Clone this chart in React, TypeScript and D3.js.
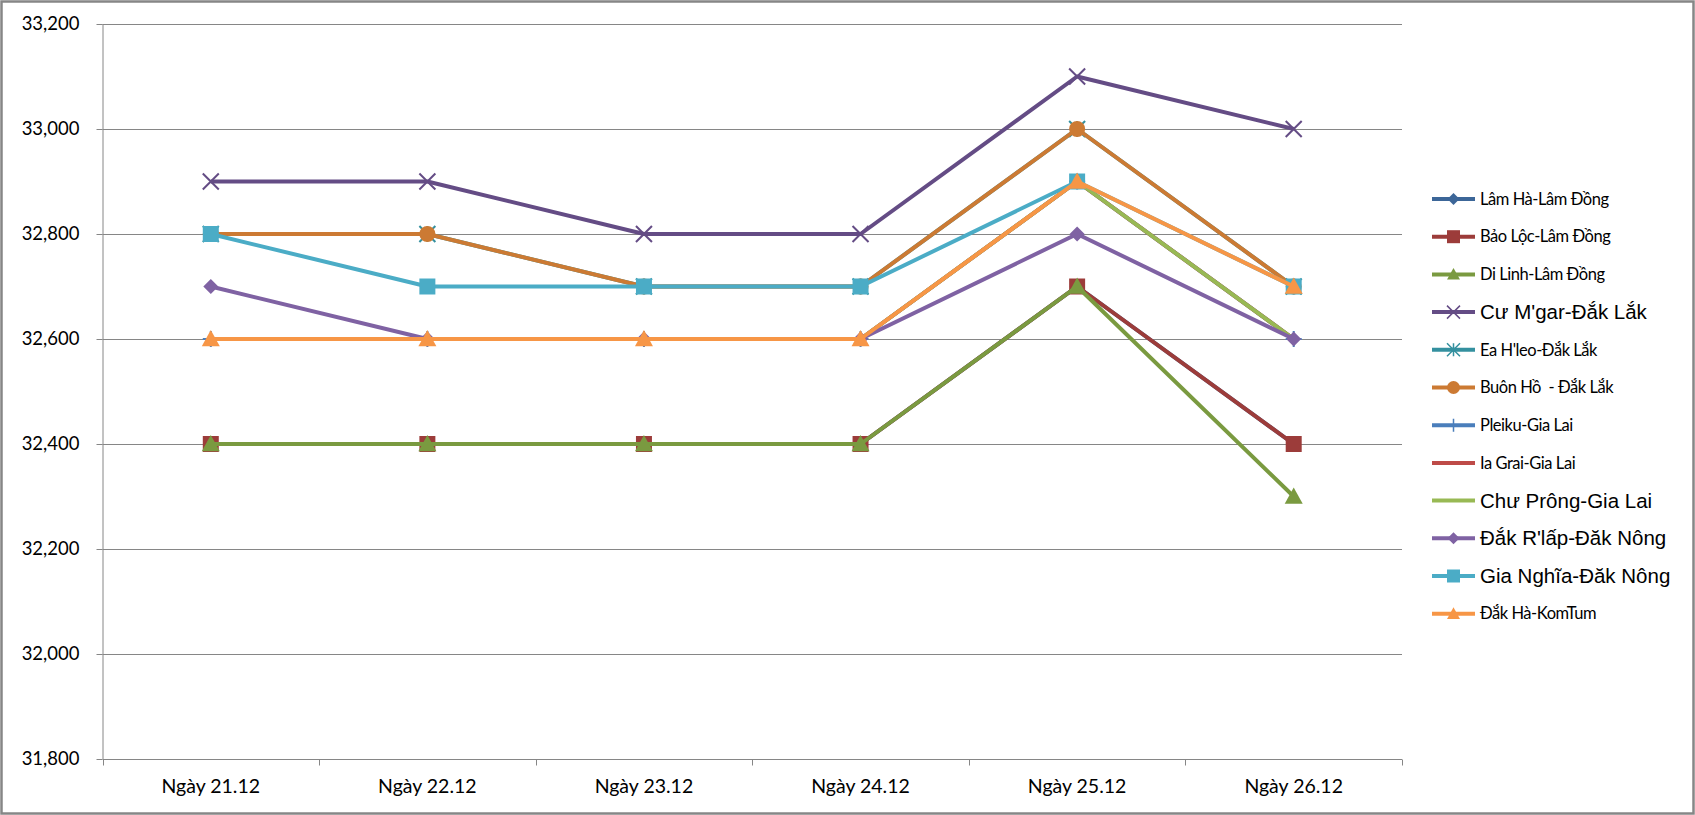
import * as d3 from "d3";
import { useEffect, useRef } from "react";

const categories = ["Ngày 21.12", "Ngày 22.12", "Ngày 23.12", "Ngày 24.12", "Ngày 25.12", "Ngày 26.12"];
const seriesNames = [
  "Lâm Hà-Lâm Đồng",
  "Bảo Lộc-Lâm Đồng",
  "Di Linh-Lâm Đồng",
  "Cư M'gar-Đắk Lắk",
  "Ea H'leo-Đắk Lắk",
  "Buôn Hồ  - Đắk Lắk",
  "Pleiku-Gia Lai",
  "Ia Grai-Gia Lai",
  "Chư Prông-Gia Lai",
  "Đắk R'lấp-Đăk Nông",
  "Gia Nghĩa-Đăk Nông",
  "Đắk Hà-KomTum",
];
const lamHa = [32400, 32400, 32400, 32400, 32700, 32400];
const baoLoc = [32400, 32400, 32400, 32400, 32700, 32400];
const diLinh = [32400, 32400, 32400, 32400, 32700, 32300];
const cuMgar = [32900, 32900, 32800, 32800, 33100, 33000];
const eaHleo = [32800, 32800, 32700, 32700, 33000, 32700];
const buonHo = [32800, 32800, 32700, 32700, 33000, 32700];
const pleiku = [32600, 32600, 32600, 32600, 32900, 32600];
const iaGrai = [32600, 32600, 32600, 32600, 32900, 32600];
const chuProng = [32600, 32600, 32600, 32600, 32900, 32600];
const dakRlap = [32700, 32600, 32600, 32600, 32800, 32600];
const giaNghia = [32800, 32700, 32700, 32700, 32900, 32700];
const dakHa = [32600, 32600, 32600, 32600, 32900, 32700];
const yTicks = [31800, 32000, 32200, 32400, 32600, 32800, 33000, 33200];

const seriesValues = [lamHa, baoLoc, diLinh, cuMgar, eaHleo, buonHo, pleiku, iaGrai, chuProng, dakRlap, giaNghia, dakHa];
const colors = ["#3C6698", "#9C3C3A", "#7A9A40", "#644C85", "#34909F", "#CC7A33", "#4A7EBB", "#BE4B48", "#98B954", "#7F62A3", "#4BACC6", "#F79646"];
const markers = ["diamond", "square", "triangle", "x", "star", "circle", "plus", "none", "none", "diamond", "square", "triangle"];
// some legend entries were typed in a different font in the original
const arialEntries = [3, 8, 9, 10];

// marker path centred on 0,0
const markerPath = (type, s) => {
  const h = s / 2;
  switch (type) {
    case "diamond":
      return `M0,${-h}L${h},0L0,${h}L${-h},0Z`;
    case "square":
      return `M${-h},${-h}H${h}V${h}H${-h}Z`;
    case "triangle":
      return `M0,${-h}L${h},${h * 0.8}L${-h},${h * 0.8}Z`;
    case "circle":
      return d3.symbol(d3.symbolCircle, Math.PI * h * h)();
    case "x":
      return `M${-h},${-h}L${h},${h}M${-h},${h}L${h},${-h}`;
    case "star":
      return `M${-h},${-h}L${h},${h}M${-h},${h}L${h},${-h}M0,${-h}V${h}`;
    case "plus":
      return `M0,${-h}V${h}M${-h},0H${h}`;
    default:
      return null;
  }
};
const isStroked = (type) => type === "x" || type === "star" || type === "plus";

const App = () => {
  const svgRef = useRef();

  const renderSVG = () => {
    const dims = {
      width: 1695,
      height: 815,
      plot: { left: 102.5, right: 1402, top: 24, bottom: 759 },
      legend: { x1: 1432, x2: 1475, textX: 1480, y0: 199, step: 37.7 },
    };

    document.body.style.margin = "0";

    const x = d3.scaleBand().domain(categories).range([dims.plot.left, dims.plot.right]);
    const y = d3.scaleLinear().domain([31800, 33200]).range([dims.plot.bottom, dims.plot.top]);

    svgRef.current.innerHTML = "";
    const svg = d3
      .select(svgRef.current)
      .attr("width", dims.width)
      .attr("height", dims.height)
      .attr("viewBox", [0, 0, dims.width, dims.height])
      .style("display", "block")
      .style("background", "#fff");

    // outer chart border
    svg
      .append("rect")
      .attr("x", 1.5)
      .attr("y", 1.5)
      .attr("width", dims.width - 3)
      .attr("height", dims.height - 3)
      .attr("fill", "#fff")
      .attr("stroke", "#868686")
      .attr("stroke-width", 2.5);

    // gridlines
    svg
      .append("g")
      .selectAll("line")
      .data(yTicks.slice(1))
      .join("line")
      .attr("x1", dims.plot.left)
      .attr("x2", dims.plot.right)
      .attr("y1", (d) => Math.round(y(d)) + 0.5)
      .attr("y2", (d) => Math.round(y(d)) + 0.5)
      .attr("stroke", "#868686")
      .attr("stroke-width", 1);

    // Y axis
    svg
      .append("g")
      .attr("transform", `translate(${dims.plot.left},0)`)
      .call(d3.axisLeft(y).tickValues(yTicks).tickSize(6).tickPadding(17).tickFormat(d3.format(",")))
      .call((g) => {
        g.select("path.domain").attr("stroke", "#868686").attr("d", `M0.5,${dims.plot.top}V${dims.plot.bottom}`);
        g.selectAll(".tick line").attr("stroke", "#868686");
        g.selectAll(".tick text")
          .attr("font-size", 18.5)
          .attr("font-family", "Lato")
          .attr("fill", "#000");
      });

    // X axis
    const xAxis = svg.append("g").attr("transform", `translate(0,${Math.round(dims.plot.bottom) + 0.5})`);
    xAxis
      .append("line")
      .attr("x1", dims.plot.left)
      .attr("x2", dims.plot.right)
      .attr("stroke", "#868686");
    xAxis
      .selectAll("line.tick")
      .data(d3.range(categories.length + 1))
      .join("line")
      .attr("class", "tick")
      .attr("x1", (i) => Math.round(dims.plot.left + i * x.bandwidth()) + 0.5)
      .attr("x2", (i) => Math.round(dims.plot.left + i * x.bandwidth()) + 0.5)
      .attr("y2", 6)
      .attr("stroke", "#868686");
    xAxis
      .selectAll("text")
      .data(categories)
      .join("text")
      .attr("x", (d) => x(d) + x.bandwidth() / 2)
      .attr("y", 33)
      .attr("text-anchor", "middle")
      .attr("font-size", 19.5)
      .attr("font-family", "Lato")
      .attr("fill", "#000")
      .text((d) => d);

    const cx = (i) => x(categories[i]) + x.bandwidth() / 2;
    const line = d3
      .line()
      .x((d, i) => cx(i))
      .y((d) => y(d));

    // series, first one at the bottom
    seriesValues.forEach((values, s) => {
      const g = svg.append("g");
      g.append("path")
        .attr("d", line(values))
        .attr("fill", "none")
        .attr("stroke", colors[s])
        .attr("stroke-width", 4)
        .attr("stroke-linejoin", "round");
      const type = markers[s];
      if (type === "none") return;
      const size = type === "diamond" ? 15 : type === "circle" ? 16 : type === "triangle" ? 18 : 16;
      g.selectAll("path.mark")
        .data(values)
        .join("path")
        .attr("class", "mark")
        .attr("transform", (d, i) => `translate(${cx(i)},${y(d)})`)
        .attr("d", markerPath(type, size))
        .attr("fill", isStroked(type) ? "none" : colors[s])
        .attr("stroke", colors[s])
        .attr("stroke-width", isStroked(type) ? 2 : 0);
    });

    // legend
    const legend = svg
      .append("g")
      .selectAll("g")
      .data(seriesNames)
      .join("g")
      .attr("transform", (d, i) => `translate(0,${dims.legend.y0 + i * dims.legend.step})`);
    legend
      .append("line")
      .attr("x1", dims.legend.x1)
      .attr("x2", dims.legend.x2)
      .attr("stroke", (d, i) => colors[i])
      .attr("stroke-width", 4);
    legend
      .filter((d, i) => markers[i] !== "none")
      .append("path")
      .attr("transform", `translate(${(dims.legend.x1 + dims.legend.x2) / 2},0)`)
      .attr("d", (d) => {
        const type = markers[seriesNames.indexOf(d)];
        return markerPath(type, type === "diamond" ? 12 : 13);
      })
      .attr("fill", (d) => (isStroked(markers[seriesNames.indexOf(d)]) ? "none" : colors[seriesNames.indexOf(d)]))
      .attr("stroke", (d) => colors[seriesNames.indexOf(d)])
      .attr("stroke-width", (d) => (isStroked(markers[seriesNames.indexOf(d)]) ? 1.5 : 0));
    legend
      .append("text")
      .attr("x", dims.legend.textX)
      .attr("dy", "0.35em")
      .attr("font-family", (d, i) => (arialEntries.includes(i) ? "Liberation Sans" : "Lato"))
      .attr("font-size", (d, i) => (arialEntries.includes(i) ? 20.5 : 16.5))
      .attr("letter-spacing", (d, i) => (arialEntries.includes(i) ? 0 : -0.45))
      .attr("fill", "#000")
      .style("white-space", "pre")
      .text((d) => d);
  };

  useEffect(() => {
    renderSVG();
  });

  return <svg ref={svgRef} />;
};

export default App;
